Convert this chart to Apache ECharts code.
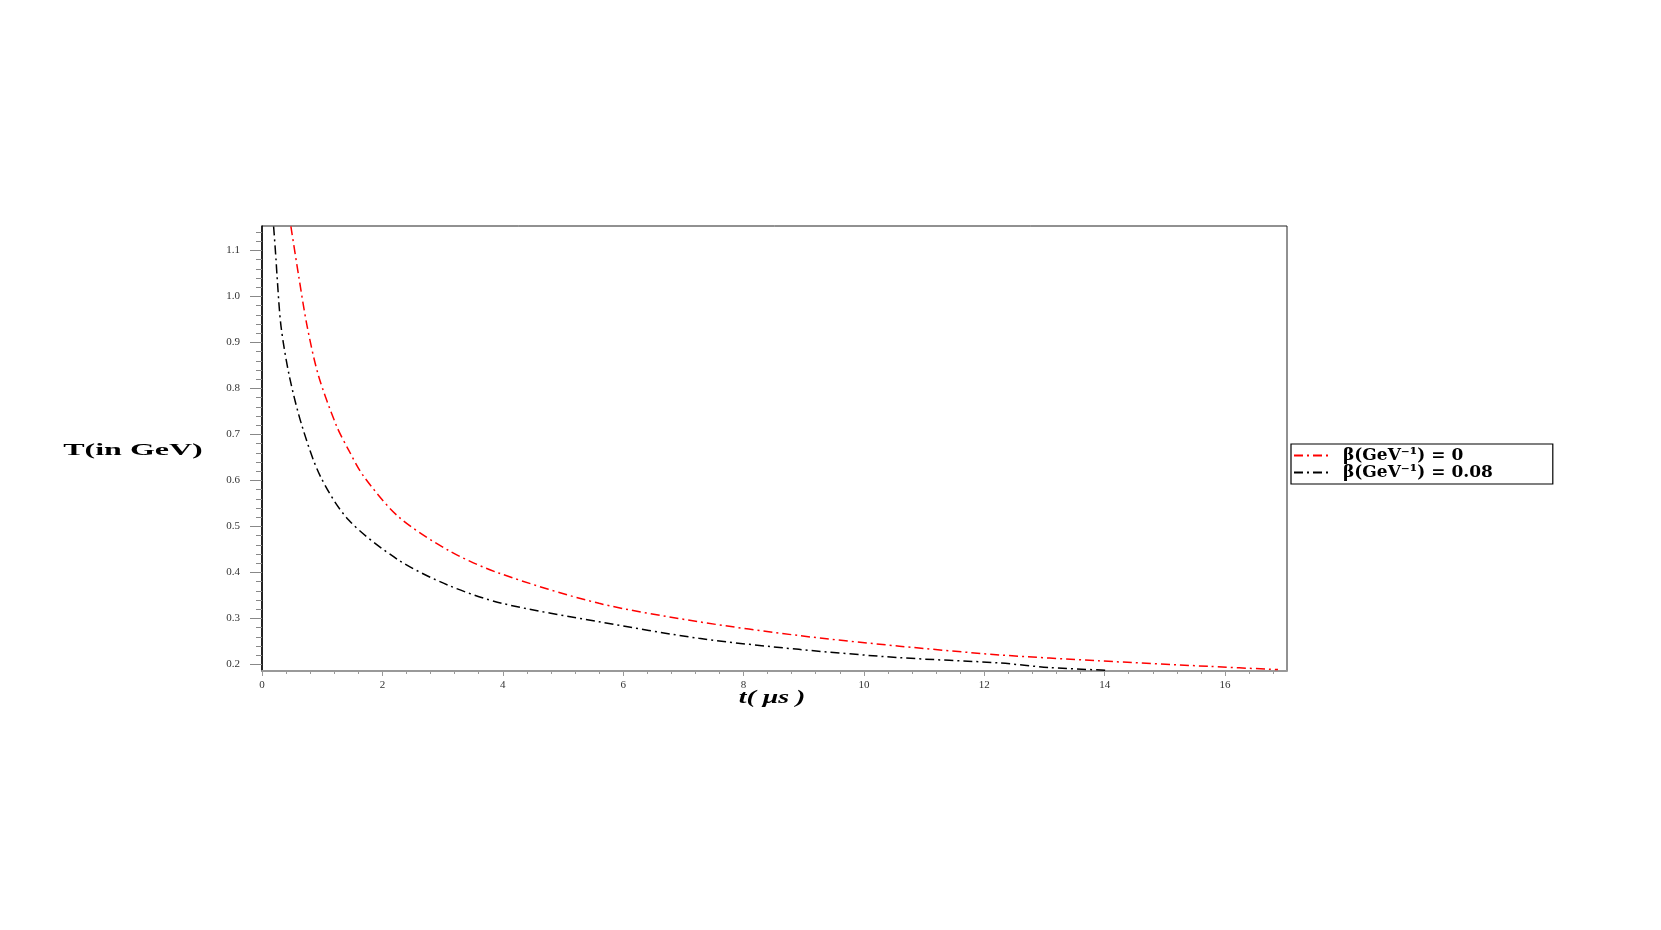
<!DOCTYPE html>
<html>
<head>
<meta charset="utf-8">
<script src="https://cdn.jsdelivr.net/npm/echarts@6/dist/echarts.min.js"></script>
<style>
  html, body { margin: 0; padding: 0; background: #fff; }
  #chart { width: 1661px; height: 930px; }
</style>
</head>
<body>
<div id="chart"></div>
<script>
// t (μs) and T (GeV)
var tBeta0 = [0.48, 0.61, 0.75, 0.94, 1.24, 1.44, 1.69, 2.27, 3.1, 3.93, 5.6, 7.26, 8.92, 10.59, 12.25, 13.92, 15.74, 16.88];
var TBeta0 = [1.152, 1.044, 0.935, 0.827, 0.718, 0.666, 0.609, 0.521, 0.448, 0.399, 0.333, 0.293, 0.263, 0.240, 0.221, 0.208, 0.196, 0.189];

var tBeta008 = [0.193, 0.233, 0.25, 0.316, 0.454, 0.666, 0.97, 1.44, 2.27, 3.1, 3.99, 5.6, 7.26, 8.92, 10.59, 12.25, 13.08, 14.05];
var TBeta008 = [1.152, 1.08, 1.044, 0.935, 0.827, 0.718, 0.609, 0.514, 0.427, 0.372, 0.333, 0.293, 0.257, 0.233, 0.215, 0.2035, 0.1935, 0.1876];

var seriesNames = ['β(GeV⁻¹) = 0', 'β(GeV⁻¹) = 0.08'];
var seriesColors = ['#ff0000', '#000000'];

var xMajor = [0, 2, 4, 6, 8, 10, 12, 14, 16];
var yMajor = [0.2, 0.3, 0.4, 0.5, 0.6, 0.7, 0.8, 0.9, 1.0, 1.1];

var xRange = [0, 17.03];
var yRange = [0.186, 1.153];

// minor ticks: 5 per major step
var xMinor = [];
for (var i = 0; i <= 42; i++) xMinor.push(+(i * 0.4).toFixed(2));
var yMinor = [];
for (var j = 0; j <= 47; j++) yMinor.push(+(0.2 + j * 0.02).toFixed(2));

function pairs(xs, ys) {
  return xs.map(function (x, k) { return [x, ys[k]]; });
}

var chart = echarts.init(document.getElementById('chart'), null, { renderer: 'canvas' });

var labelFont = { color: '#333', fontSize: 11, fontFamily: 'Liberation Serif' };

chart.setOption({
  animation: false,
  backgroundColor: '#fff',
  grid: {
    left: 262, top: 226, width: 1025, height: 445,
    show: true, borderColor: '#222', borderWidth: 1
  },
  legend: {
    orient: 'vertical',
    left: 1291, top: 444,
    padding: [3, 60, 3, 2],
    itemGap: 0,
    itemWidth: 38,
    itemHeight: 10,
    borderColor: '#000',
    borderWidth: 1.2,
    itemStyle: { opacity: 0 },
    textStyle: { color: '#000', fontSize: 17, fontWeight: 'bold', fontFamily: 'DejaVu Serif', padding: [0, 0, 0, 6] },
    data: seriesNames
  },
  xAxis: [
    {
      type: 'value', position: 'bottom',
      min: xRange[0], max: xRange[1],
      axisLine: { lineStyle: { color: '#999', width: 2 } },
      axisTick: { customValues: xMajor, length: 5, lineStyle: { color: '#999' } },
      axisLabel: Object.assign({ customValues: xMajor, margin: 9 }, labelFont),
      splitLine: { show: false }
    },
    {
      type: 'value', position: 'bottom',
      min: xRange[0], max: xRange[1],
      axisLine: { show: false },
      axisTick: { customValues: xMinor, length: 3, lineStyle: { color: '#999' } },
      axisLabel: { show: false },
      splitLine: { show: false }
    }
  ],
  yAxis: [
    {
      type: 'value', position: 'left',
      min: yRange[0], max: yRange[1],
      axisLine: { show: true, lineStyle: { color: '#000', width: 1.5 } },
      axisTick: { customValues: yMajor, length: 12, lineStyle: { color: '#888' } },
      axisLabel: Object.assign({
        customValues: yMajor, margin: 22,
        formatter: function (v) { return v.toFixed(1); }
      }, labelFont),
      splitLine: { show: false }
    },
    {
      type: 'value', position: 'left',
      min: yRange[0], max: yRange[1],
      axisLine: { show: false },
      axisTick: { customValues: yMinor, length: 6, lineStyle: { color: '#888' } },
      axisLabel: { show: false },
      splitLine: { show: false }
    }
  ],
  graphic: [
    {
      type: 'text', x: 133, y: 451, scaleX: 2.0,
      style: {
        text: 'T(in GeV)', fill: '#000', fontSize: 16, fontWeight: 'bold',
        fontFamily: 'Liberation Serif', align: 'center', verticalAlign: 'middle'
      }
    },
    {
      type: 'text', x: 772, y: 698, scaleX: 1.55,
      style: {
        text: 't( μs )', fill: '#000', fontSize: 18, fontWeight: 'bold', fontStyle: 'italic',
        fontFamily: 'Liberation Serif', align: 'center', verticalAlign: 'middle'
      }
    }
  ],
  series: [
    {
      name: seriesNames[0], type: 'line',
      xAxisIndex: 0, yAxisIndex: 0,
      data: pairs(tBeta0, TBeta0),
      symbol: 'none', smooth: 0.3,
      lineStyle: { color: seriesColors[0], width: 1.5, type: [9, 4, 2, 4] },
      itemStyle: { color: seriesColors[0] }
    },
    {
      name: seriesNames[1], type: 'line',
      xAxisIndex: 0, yAxisIndex: 0,
      data: pairs(tBeta008, TBeta008),
      symbol: 'none', smooth: 0.3,
      lineStyle: { color: seriesColors[1], width: 1.5, type: [9, 4, 2, 4] },
      itemStyle: { color: seriesColors[1] }
    }
  ]
});
</script>
</body>
</html>
